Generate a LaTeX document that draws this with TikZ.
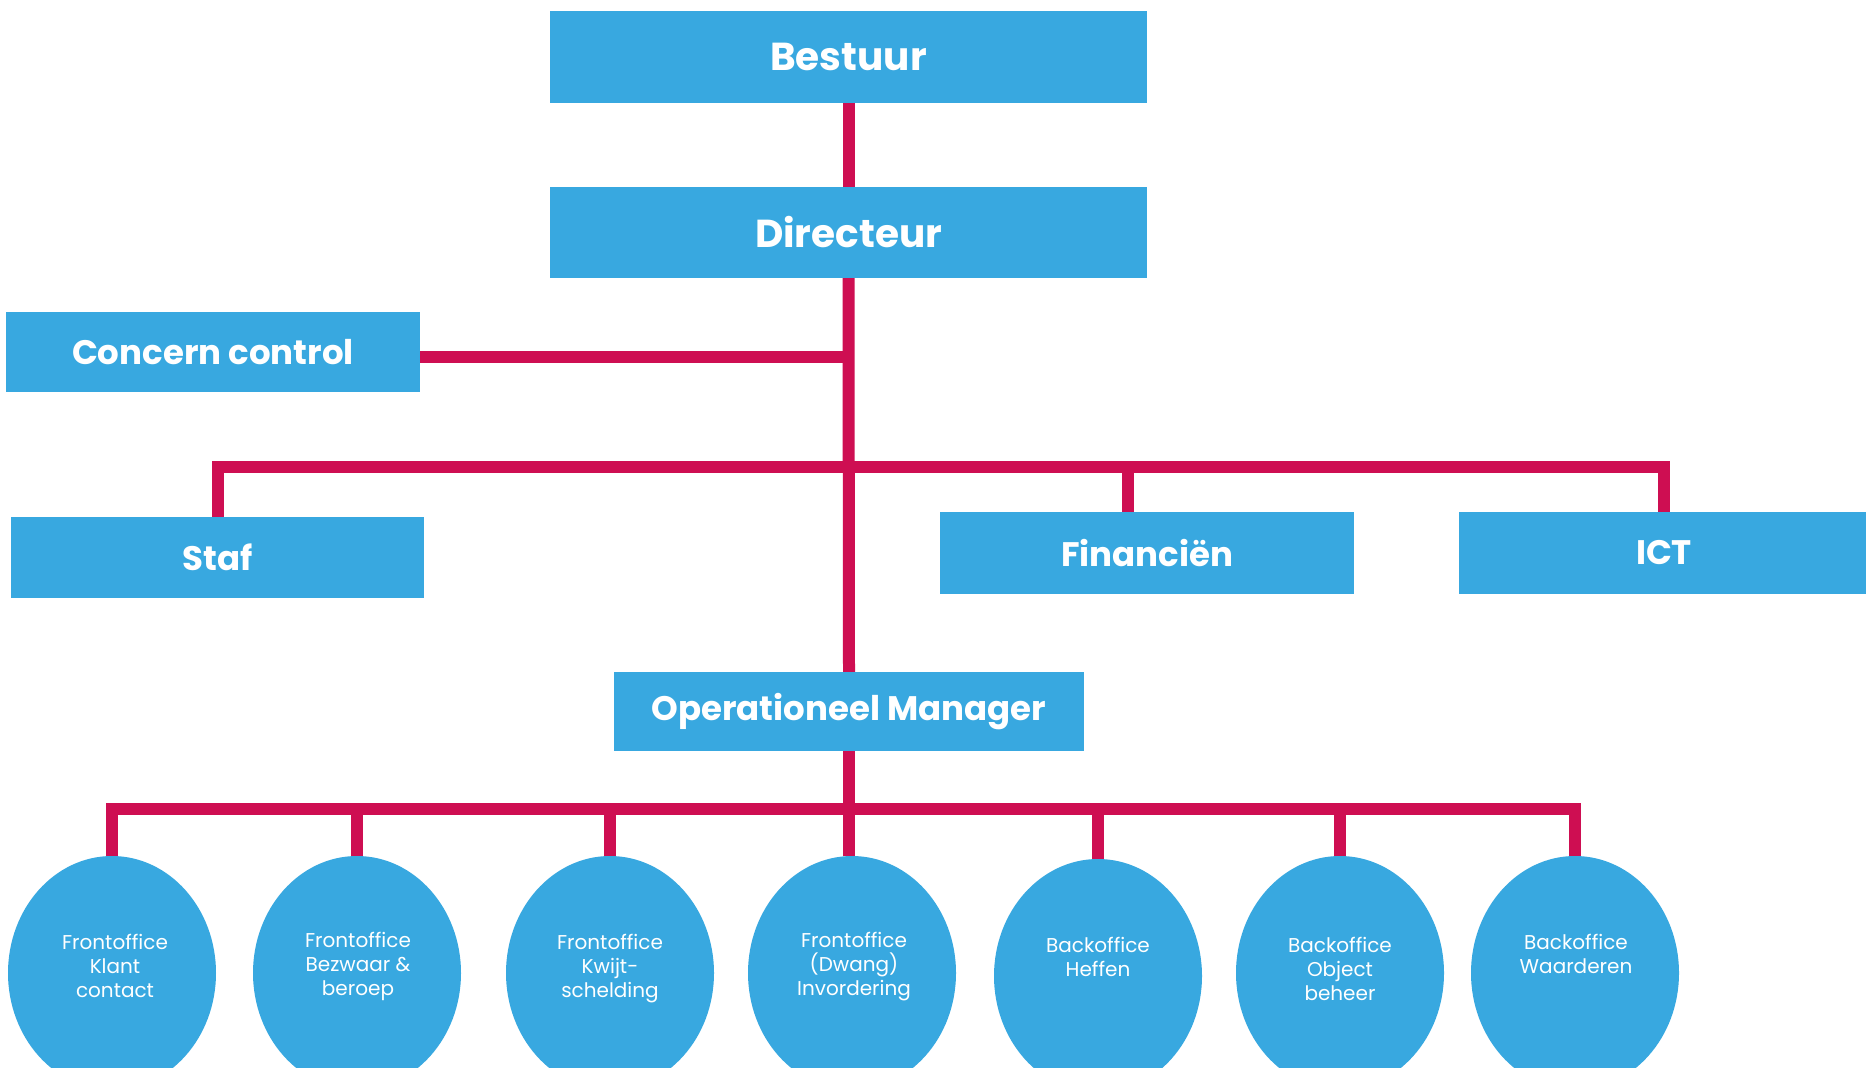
\documentclass[tikz,border=0pt]{standalone}
\usepackage{fontspec}
\setmainfont{Poppins}
\usetikzlibrary{shapes.geometric}
\definecolor{boxblue}{HTML}{38A8E0}
\definecolor{linepink}{HTML}{CE0E52}
\begin{document}
\begin{tikzpicture}[x=1pt,y=-1pt,
  orgbox/.style={fill=boxblue, text=white, inner sep=0pt,
    font=\bfseries\fontsize{34}{40}\selectfont},
  bigbox/.style={orgbox, font=\bfseries\fontsize{39}{44}\selectfont},
  unitcirc/.style={ellipse, fill=boxblue, inner sep=0pt,
    minimum width=208pt, minimum height=234pt},
  lbl/.style={text=white, align=center, anchor=north, inner sep=0pt,
    font=\fontsize{20}{24}\selectfont},
  conn/.style={draw=linepink, line width=12pt}]
\useasboundingbox (0,0) rectangle (1866,1068);
\fill[white] (0,0) rectangle (1866,1068);

% boxes
\node[bigbox, minimum width=597pt, minimum height=92pt] (bestuur) at (848.5,57) {Bestuur};
\node[bigbox, minimum width=597pt, minimum height=91pt] (directeur) at (848.5,232.5) {Directeur};
\node[orgbox, minimum width=414pt, minimum height=80pt] (concern) at (213,352) {Concern control};
\node[orgbox, minimum width=413pt, minimum height=81pt] (staf) at (217.5,557.5) {Staf};
\node[orgbox, minimum width=414pt, minimum height=82pt] (fin) at (1147,553) {Financiën};
\node[orgbox, minimum width=410pt, minimum height=82pt] (ict) at (1664,553) {ICT};
\node[orgbox, minimum width=470pt, minimum height=79pt] (om) at (849,711.5) {Operationeel Manager};

% units
\node[unitcirc] (c1) at (112,973) {};
\node[unitcirc] (c2) at (357,973) {};
\node[unitcirc] (c3) at (610,973) {};
\node[unitcirc] (c4) at (852,973) {};
\node[unitcirc] (c5) at (1098,976) {};
\node[unitcirc] (c6) at (1340,973) {};
\node[unitcirc] (c7) at (1575,973) {};

\node[lbl] (t1) at (115,934) {Frontoffice\\Klant\\contact};
\node[lbl] (t2) at (358,932) {Frontoffice\\Bezwaar \&\\beroep};
\node[lbl] (t3) at (610,934) {Frontoffice\\Kwijt-\\schelding};
\node[lbl] (t4) at (854,932) {Frontoffice\\(Dwang)\\Invordering};
\node[lbl] (t5) at (1098,937) {Backoffice\\Heffen};
\node[lbl] (t6) at (1340,937) {Backoffice\\Object\\beheer};
\node[lbl] (t7) at (1576,934) {Backoffice\\Waarderen};

% junctions
\coordinate (j1) at (849,357);
\coordinate (j2) at (849,467);
\coordinate (j3) at (849,809);
\coordinate (fintop) at ([xshift=-19pt]fin.north);

% connectors
\draw[conn] (bestuur) -- (directeur);
\draw[conn] (directeur.south) -- (om.north);
\draw[conn] (concern.east |- j1) -- (j1);
\draw[conn] (staf.north) |- (j2) -| (ict.north);
\draw[conn] (fintop) -- (fintop |- j2);
\draw[conn] (om.south) -- (om.south |- c4.north);
\draw[conn] (c1.north) |- (j3) -| (c7.north);
\draw[conn] (c2.north) -- (c2.north |- j3);
\draw[conn] (c3.north) -- (c3.north |- j3);
\draw[conn] (c5.north) -- (c5.north |- j3);
\draw[conn] (c6.north) -- (c6.north |- j3);
\end{tikzpicture}
\end{document}
